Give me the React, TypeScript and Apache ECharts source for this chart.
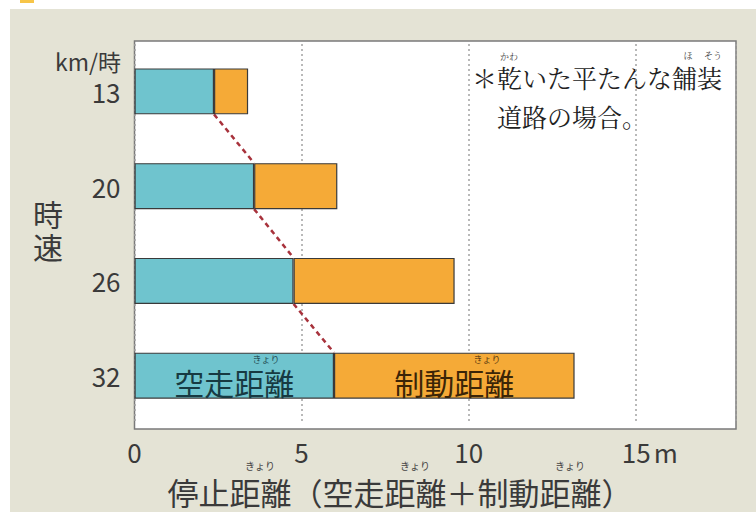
import React, { useEffect, useRef } from 'react';
import * as echarts from 'echarts';

const speeds = ['13', '20', '26', '32'];
const freeRunning = [2.38, 3.58, 4.76, 5.97];
const braking = [1.02, 2.49, 4.82, 7.2];
const xTicks = [0, 5, 10, 15];
const xMax = 18;
const freeLabel = '空走距離';
const brakeLabel = '制動距離';

const CJK = '"Noto Sans CJK JP", "Noto Sans", sans-serif';
const SERIF = '"Noto Serif CJK JP", "Noto Sans CJK JP", serif';

export default function App() {
  const ref = useRef<HTMLDivElement>(null);
  useEffect(() => {
    const chart = echarts.init(ref.current as HTMLDivElement, null, { renderer: 'svg' });
    const half = 23;
    const last = speeds.length - 1;
    const connectors = freeRunning.slice(0, -1).map((v, i) => [v, i, freeRunning[i + 1], i + 1]);
    const labelStyle = (text: string, color: string) => ({
      show: true,
      position: 'inside',
      formatter: text,
      fontSize: 30,
      fontFamily: CJK,
      color,
      offset: [0, 6],
    });
    const furi = (x: number, y: number, t: string, size = 10, font = CJK, fill = '#444') => ({
      type: 'text',
      z: 50,
      x,
      y,
      style: { text: t, fontSize: size, fontFamily: font, fill, align: 'center', verticalAlign: 'middle' },
    });
    chart.setOption({
      animation: false,
      backgroundColor: '#e4e3d5',
      grid: { left: 134.5, right: 20, top: 44, bottom: 89, containLabel: false },
      xAxis: {
        type: 'value',
        min: 0,
        max: xMax,
        interval: 5,
        axisLine: { show: false },
        axisTick: { show: false },
        splitLine: { show: true, lineStyle: { color: '#a3a3a3', width: 1.5, type: [2, 3] } },
        axisLabel: {
          margin: 15,
          color: '#3a3a3a',
          fontFamily: CJK,
          fontSize: 26,
          formatter: (v: number) =>
            v === 15 ? '{p|}{n|15}{u|m}' : xTicks.includes(v) ? `{n|${v}}` : '',
          rich: {
            n: { fontSize: 26, fontFamily: CJK, color: '#3a3a3a' },
            u: { fontSize: 26, fontFamily: CJK, color: '#3a3a3a', padding: [0, 0, 0, 3] },
            p: { width: 28 },
          },
        },
      },
      yAxis: {
        type: 'category',
        data: speeds,
        inverse: true,
        axisLine: { show: false },
        axisTick: { show: false },
        splitLine: { show: false },
        axisLabel: { margin: 14, fontSize: 26, color: '#3a3a3a', fontFamily: CJK },
      },
      series: [
        {
          type: 'custom',
          z: 1,
          encode: { x: [0, 2], y: [1, 3] },
          data: connectors,
          renderItem: (params: any, api: any) => {
            const p1 = api.coord([api.value(0), api.value(1)]);
            const p2 = api.coord([api.value(2), api.value(3)]);
            return {
              type: 'line',
              shape: { x1: p1[0], y1: p1[1] + half, x2: p2[0], y2: p2[1] - half },
              style: { stroke: '#a8323c', lineWidth: 2.5, lineDash: [5, 4] },
            };
          },
        },
        {
          type: 'bar',
          stack: 'd',
          z: 2,
          barWidth: 46,
          itemStyle: { color: '#6fc4ce', borderColor: '#3a3a3a', borderWidth: 1.2 },
          data: freeRunning.map((v, i) =>
            i === last ? { value: v, label: labelStyle(freeLabel, '#173a42') } : v
          ),
        },
        {
          type: 'bar',
          stack: 'd',
          z: 2,
          barWidth: 46,
          itemStyle: { color: '#f5aa37', borderColor: '#3a3a3a', borderWidth: 1.2 },
          data: braking.map((v, i) =>
            i === last ? { value: v, label: labelStyle(brakeLabel, '#3b2507') } : v
          ),
        },
      ],
      graphic: {
        elements: [
          { type: 'rect', z: -1, shape: { x: 0, y: 0, width: 10, height: 512 }, style: { fill: '#ffffff' } },
          { type: 'rect', z: -1, shape: { x: 0, y: 0, width: 756, height: 9 }, style: { fill: '#ffffff' } },
          { type: 'rect', z: -1, shape: { x: 20, y: 0, width: 14, height: 3 }, style: { fill: '#f7c548' } },
          {
            type: 'rect',
            z: -1,
            shape: { x: 134.5, y: 41, width: 601.5, height: 388 },
            style: { fill: '#ffffff', stroke: '#7a7a7a', lineWidth: 1.5 },
          },
          {
            type: 'text',
            x: 121,
            y: 61,
            style: { text: 'km/時', fontSize: 23, fontFamily: CJK, fill: '#3a3a3a', align: 'right', verticalAlign: 'middle' },
          },
          {
            type: 'text',
            x: 48,
            y: 213,
            style: { text: '時', fontSize: 30, fontFamily: CJK, fill: '#3a3a3a', align: 'center', verticalAlign: 'middle' },
          },
          {
            type: 'text',
            x: 48,
            y: 246,
            style: { text: '速', fontSize: 30, fontFamily: CJK, fill: '#3a3a3a', align: 'center', verticalAlign: 'middle' },
          },
          {
            type: 'text',
            x: 400,
            y: 491,
            style: { text: '停止距離（空走距離＋制動距離）', fontSize: 31, fontFamily: CJK, fill: '#3a3a3a', align: 'center', verticalAlign: 'middle' },
          },
          furi(260, 465, 'きょり', 10),
          furi(415, 465, 'きょり', 10),
          furi(570, 465, 'きょり', 10),
          furi(266, 359, 'きょり', 9, CJK, '#1f4a52'),
          furi(487, 359, 'きょり', 9, CJK, '#5a3a10'),
          {
            type: 'text',
            x: 472,
            y: 77,
            style: { text: '＊乾いた平たんな舗装', fontSize: 25, fontFamily: SERIF, fill: '#222', align: 'left', verticalAlign: 'middle' },
          },
          {
            type: 'text',
            x: 497,
            y: 116,
            style: { text: '道路の場合。', fontSize: 25, fontFamily: SERIF, fill: '#222', align: 'left', verticalAlign: 'middle' },
          },
          furi(509, 56, 'かわ', 9, SERIF),
          furi(688, 55, 'ほ', 9, SERIF),
          furi(713, 55, 'そう', 9, SERIF),
        ],
      },
    });
    return () => chart.dispose();
  }, []);
  return <div ref={ref} style={{ position: 'fixed', left: 0, top: 0, width: 756, height: 512 }} />;
}
